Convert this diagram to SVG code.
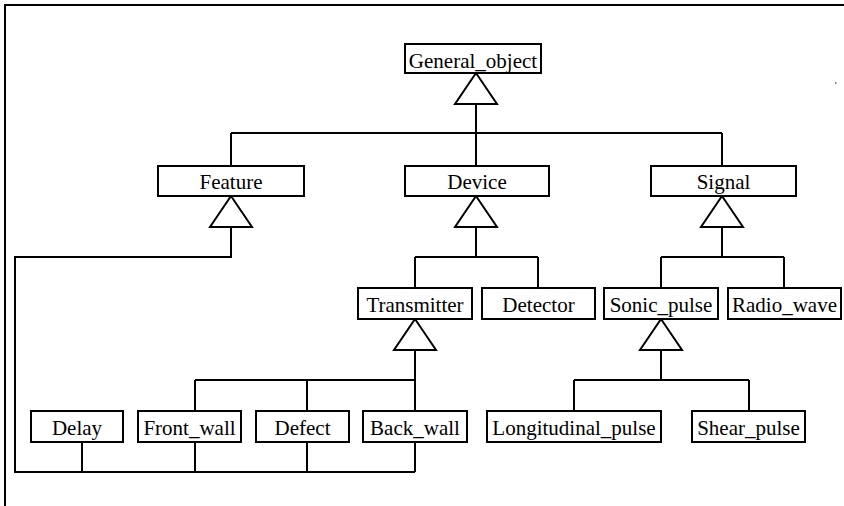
<svg xmlns="http://www.w3.org/2000/svg" width="844" height="506" viewBox="0 0 844 506">
  <style>
    .box { fill: #ffffff; stroke: #000000; stroke-width: 2; }
    .lbl { font-family: "Liberation Serif", "Times New Roman", serif; font-size: 21px; fill: #000000; text-anchor: middle; }
    .wire { fill: none; stroke: #000000; stroke-width: 2; stroke-linejoin: miter; }
    .gen { fill: #ffffff; stroke: #000000; stroke-width: 2; stroke-linejoin: miter; }
    .frame { fill: none; stroke: #000000; stroke-width: 2; }
  </style>
  <defs>
    <!-- hollow generalization triangle, apex at origin -->
    <polygon id="tri" class="gen" points="0,0 21,31 -21,31"/>
  </defs>

  <rect width="844" height="506" fill="#ffffff"/>
  <path class="frame" d="M5 506 V5 H844"/>
  <rect x="835" y="82" width="1.5" height="2" fill="#8a8a8a"/>

  <g id="connectors">
    <!-- General_object subclasses -->
    <path class="wire" d="M476 104 V133 M231 133 H722 M231 133 V166 M476 133 V166 M722 133 V166"/>
    <!-- Feature subclasses -->
    <path class="wire" d="M231 227 V257 H15 V472 H415"/>
    <path class="wire" d="M82 442 V472 M195 442 V472 M307 442 V472 M415 442 V472"/>
    <!-- Device subclasses -->
    <path class="wire" d="M476 227 V257 M415 257 H538 M415 257 V288 M538 257 V288"/>
    <!-- Signal subclasses -->
    <path class="wire" d="M722 227 V257 M661 257 H784 M661 257 V288 M784 257 V288"/>
    <!-- Transmitter subclasses -->
    <path class="wire" d="M415 350 V411 M195 380 H415 M195 380 V411 M307 380 V411"/>
    <!-- Sonic_pulse subclasses -->
    <path class="wire" d="M661 350 V380 M574 380 H749 M574 380 V411 M749 380 V411"/>
    <use href="#tri" x="476" y="73"/>
    <use href="#tri" x="231" y="196"/>
    <use href="#tri" x="476" y="196"/>
    <use href="#tri" x="722" y="196"/>
    <use href="#tri" x="415" y="319"/>
    <use href="#tri" x="661" y="319"/>
  </g>

  <g id="general_object">
    <rect class="box" x="405" y="44" width="136" height="29"/>
    <text class="lbl" x="473" y="67.5">General_object</text>
  </g>
  <g id="feature">
    <rect class="box" x="158" y="166" width="146" height="30"/>
    <text class="lbl" x="231" y="189">Feature</text>
  </g>
  <g id="device">
    <rect class="box" x="405" y="166" width="144" height="30"/>
    <text class="lbl" x="477" y="189">Device</text>
  </g>
  <g id="signal">
    <rect class="box" x="651" y="166" width="145" height="30"/>
    <text class="lbl" x="723.5" y="189">Signal</text>
  </g>
  <g id="transmitter">
    <rect class="box" x="358" y="288" width="114" height="31"/>
    <text class="lbl" x="415" y="311.5">Transmitter</text>
  </g>
  <g id="detector">
    <rect class="box" x="482" y="288" width="113" height="31"/>
    <text class="lbl" x="538.5" y="311.5">Detector</text>
  </g>
  <g id="sonic_pulse">
    <rect class="box" x="604" y="288" width="114" height="31"/>
    <text class="lbl" x="661" y="311.5">Sonic_pulse</text>
  </g>
  <g id="radio_wave">
    <rect class="box" x="728" y="288" width="113" height="31"/>
    <text class="lbl" x="784.5" y="311.5">Radio_wave</text>
  </g>
  <g id="delay">
    <rect class="box" x="31" y="411" width="92" height="31"/>
    <text class="lbl" x="77" y="434.5">Delay</text>
  </g>
  <g id="front_wall">
    <rect class="box" x="138" y="411" width="103" height="31"/>
    <text class="lbl" x="189.5" y="434.5">Front_wall</text>
  </g>
  <g id="defect">
    <rect class="box" x="256" y="411" width="93" height="31"/>
    <text class="lbl" x="302.5" y="434.5">Defect</text>
  </g>
  <g id="back_wall">
    <rect class="box" x="363" y="411" width="104" height="31"/>
    <text class="lbl" x="415" y="434.5">Back_wall</text>
  </g>
  <g id="longitudinal_pulse">
    <rect class="box" x="487" y="411" width="174" height="31"/>
    <text class="lbl" x="574" y="434.5">Longitudinal_pulse</text>
  </g>
  <g id="shear_pulse">
    <rect class="box" x="692" y="411" width="113" height="31"/>
    <text class="lbl" x="748.5" y="434.5">Shear_pulse</text>
  </g>
</svg>
